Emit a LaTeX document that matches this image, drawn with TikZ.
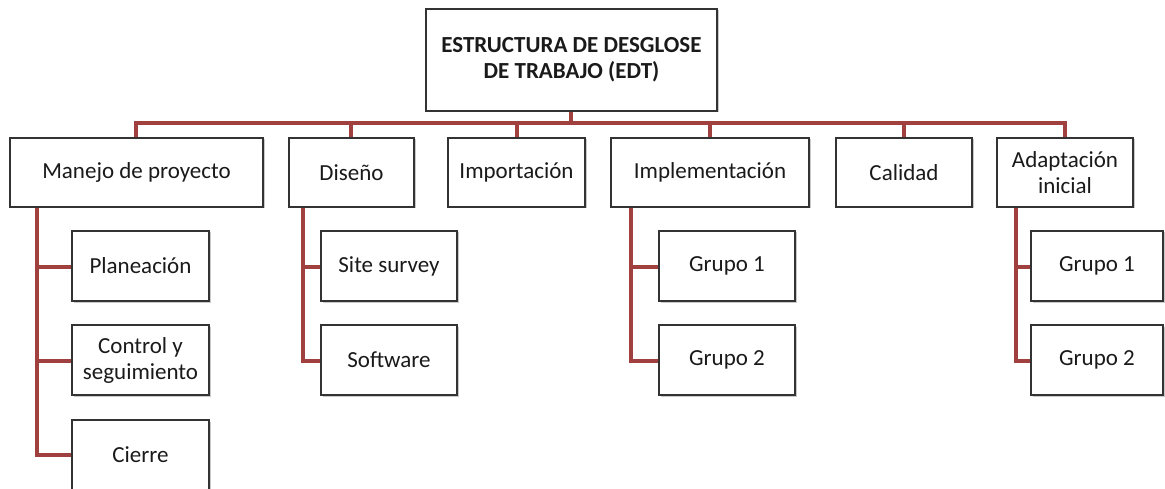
\documentclass[tikz,border=0pt]{standalone}
\usepackage{fontspec}
\setmainfont{Carlito}
\usetikzlibrary{shadows}
\definecolor{conn}{HTML}{A0403F}
\definecolor{txt}{HTML}{1A1A1A}
\tikzset{
  box/.style={draw=black!80, line width=1.4pt, fill=white, inner sep=0pt, align=center,
    font=\fontsize{23}{26}\selectfont, text=txt,
    drop shadow={shadow xshift=1.5pt, shadow yshift=-1.5pt, opacity=0.35, fill=black!60}},
  wire/.style={draw=conn, line width=3.6pt, line cap=rect}
}
\newcommand{\bx}[6]{\node[box, minimum width=#4-#2, minimum height=#5-#3] (#1) at ({(#2+#4)/2},{(#3+#5)/2}) {#6};}
\begin{document}
\begin{tikzpicture}[x=1pt,y=-1pt]
\useasboundingbox (0,0) rectangle (1165,489);
% bus and connectors
\coordinate (b0) at (571,123);
\draw[wire] (571,111) -- (b0);
\draw[wire] (136,138) |- (1065,123);
\foreach \x in {351,517,710,904,1065} \draw[wire] (\x,138) -- (\x,123);
% left vertical lines
\draw[wire] (37,207) |- (72,455);
\draw[wire] (37,267) -- (72,267);
\draw[wire] (37,361) -- (72,361);
\draw[wire] (303,207) |- (321,361);
\draw[wire] (303,267) -- (321,267);
\draw[wire] (631,207) |- (659,361);
\draw[wire] (631,267) -- (659,267);
\draw[wire] (1016,207) |- (1031,361);
\draw[wire] (1016,267) -- (1031,267);
% boxes
\bx{top}{426}{9}{717}{111}{\bfseries ESTRUCTURA DE DESGLOSE\\\bfseries DE TRABAJO (EDT)}
\bx{man}{10}{138}{263}{207}{Manejo de proyecto}
\bx{dis}{289}{138}{414}{207}{Diseño}
\bx{imp}{448}{138}{585}{207}{Importación}
\bx{impl}{611}{138}{809}{207}{Implementación}
\bx{cal}{836}{138}{972}{207}{Calidad}
\bx{ada}{997}{138}{1133}{207}{Adaptación\\inicial}
\bx{pla}{72}{231}{209}{301}{Planeación}
\bx{con}{72}{325}{209}{395}{Control y\\seguimiento}
\bx{cie}{72}{420}{209}{490}{Cierre}
\bx{site}{321}{231}{457}{301}{Site survey}
\bx{soft}{321}{325}{457}{395}{Software}
\bx{g1}{659}{231}{795}{301}{Grupo 1}
\bx{g2}{659}{325}{795}{395}{Grupo 2}
\bx{ag1}{1031}{231}{1163}{301}{Grupo 1}
\bx{ag2}{1031}{325}{1163}{395}{Grupo 2}
\end{tikzpicture}
\end{document}
